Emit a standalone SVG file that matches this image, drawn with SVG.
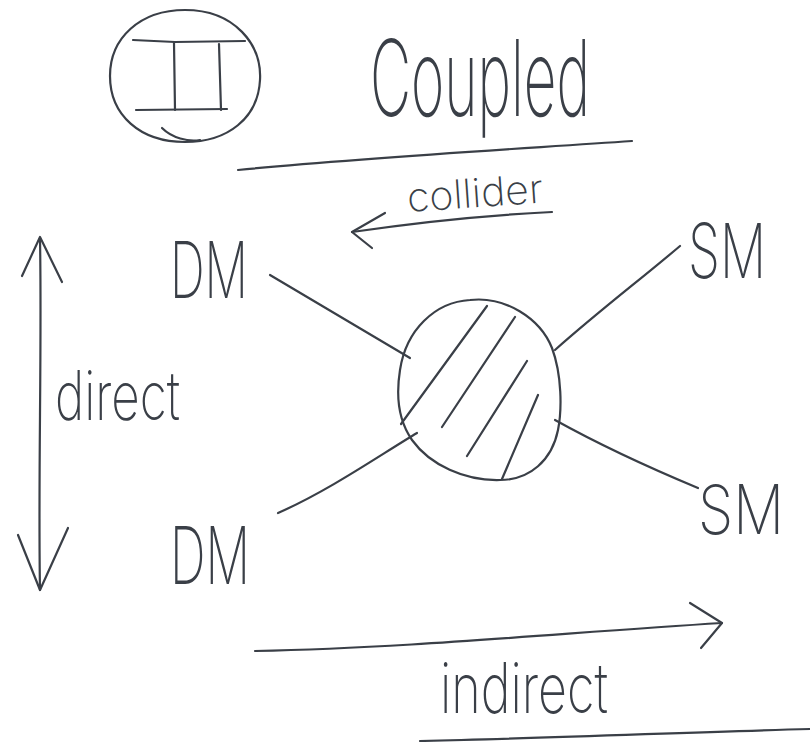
<svg xmlns="http://www.w3.org/2000/svg" width="810" height="742" viewBox="0 0 810 742">
  <style>
    .ink { fill: none; stroke: #3a3f47; stroke-width: 2.2; stroke-linecap: round; stroke-linejoin: round; }
    .hand { font-family: Inter, "Liberation Sans", sans-serif; font-weight: 200; fill: #3a3f47; }
  </style>
  <rect width="810" height="742" fill="#ffffff"/>

  <!-- section badge: roman numeral II in a circle -->
  <g id="badge">
    <path class="ink" d="M185 10 C235 10 262 45 260 80 C258 118 228 142 185 142 C140 142 110 115 110 76 C110 38 140 10 185 10 Z"/>
    <path class="ink" d="M162 128 C172 138 188 142 200 140"/>
    <path class="ink" d="M133 40 L175 42 L245 41"/>
    <path class="ink" d="M136 110 L227 109"/>
    <path class="ink" d="M174 43 L175 110"/>
    <path class="ink" d="M219 44 L221 110"/>
  </g>

  <!-- title -->
  <g id="title">
    <text class="hand" x="370" y="116" font-size="106" textLength="220" lengthAdjust="spacingAndGlyphs">Coupled</text>
    <path class="ink" d="M238 170 C360 158 500 150 632 141"/>
  </g>

  <!-- collider direction -->
  <g id="collider">
    <text class="hand" x="408" y="212" font-size="40" textLength="136" lengthAdjust="spacingAndGlyphs" transform="rotate(-4 408 212)">collider</text>
    <path class="ink" d="M352 232 C420 222 490 215 552 212"/>
    <path class="ink" d="M385 213 L352 232 L372 248"/>
  </g>

  <!-- particle labels -->
  <g id="dm-top"><text class="hand" x="170" y="298" font-size="78" textLength="78" lengthAdjust="spacingAndGlyphs">DM</text></g>
  <g id="dm-bottom"><text class="hand" x="170" y="584" font-size="80" textLength="80" lengthAdjust="spacingAndGlyphs">DM</text></g>
  <g id="sm-top"><text class="hand" x="688" y="278" font-size="76" textLength="78" lengthAdjust="spacingAndGlyphs">SM</text></g>
  <g id="sm-bottom"><text class="hand" x="698" y="534" font-size="68" textLength="86" lengthAdjust="spacingAndGlyphs">SM</text></g>

  <!-- interaction blob -->
  <g id="blob">
    <path class="ink" d="M470 300 C505 296 540 318 552 348 C562 375 562 410 558 430 C552 460 530 480 500 480 C465 481 430 465 412 440 C398 420 396 395 400 370 C406 330 435 302 470 300 Z"/>
    <path class="ink" d="M487 306 L401 424"/>
    <path class="ink" d="M515 317 L442 427"/>
    <path class="ink" d="M527 361 L467 456"/>
    <path class="ink" d="M538 395 L502 479"/>
  </g>

  <!-- connectors -->
  <g id="connectors">
    <path class="ink" d="M270 275 L410 358"/>
    <path class="ink" d="M278 513 C330 490 380 455 417 433"/>
    <path class="ink" d="M555 350 C600 310 640 280 680 246"/>
    <path class="ink" d="M555 420 C600 445 650 468 698 488"/>
    <!-- direct: vertical double arrow -->
    <path class="ink" d="M40 238 C42 350 38 480 40 590"/>
    <path class="ink" d="M22 276 L40 237 L62 282"/>
    <path class="ink" d="M18 535 L40 590 L68 528"/>
    <!-- indirect: horizontal arrow -->
    <path class="ink" d="M255 651 C410 648 560 633 722 623"/>
    <path class="ink" d="M690 603 L722 623 L701 648"/>
    <path class="ink" d="M420 741 C560 738 690 732 810 729"/>
  </g>

  <!-- axis labels -->
  <g id="direct"><text class="hand" x="55" y="420" font-size="68" textLength="125" lengthAdjust="spacingAndGlyphs">direct</text></g>
  <g id="indirect"><text class="hand" x="440" y="713" font-size="70" textLength="168" lengthAdjust="spacingAndGlyphs">indirect</text></g>
</svg>
